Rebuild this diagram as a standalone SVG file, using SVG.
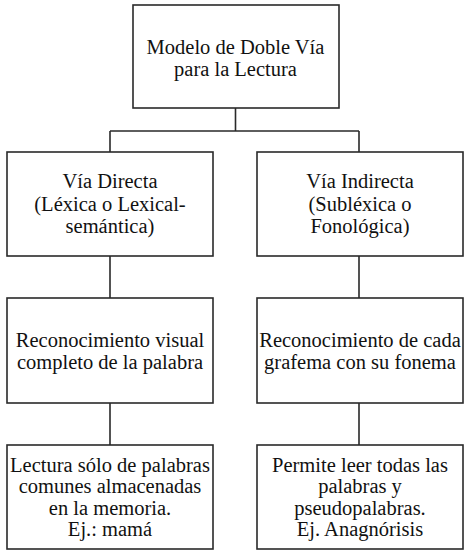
<svg xmlns="http://www.w3.org/2000/svg" width="474" height="560" viewBox="0 0 474 560">
<style>
.box{fill:#fff;stroke:#2a2a2a;stroke-width:1.6}
.ln{fill:none;stroke:#2a2a2a;stroke-width:1.6}
text{font-family:"Liberation Serif","Times New Roman",serif;font-size:20.5px;fill:#111;text-anchor:middle}
</style>
<rect width="474" height="560" fill="#fff"/>
<g id="connectors">
<path class="ln" d="M235.5 108V131M110 131H359M110 131V152M359 131V152M110 256V298M359 256V298M110 403V445M359 403V445"/>
</g>
<g id="top">
<rect class="box" x="133" y="5" width="206" height="103"/>
<text x="235.5" y="54">Modelo de Doble Vía</text>
<text x="235.5" y="76">para la Lectura</text>
</g>
<g id="directa">
<rect class="box" x="7" y="152" width="206" height="104"/>
<text x="110" y="188">Vía Directa</text>
<text x="110" y="211">(Léxica o Lexical-</text>
<text x="110" y="233">semántica)</text>
</g>
<g id="indirecta">
<rect class="box" x="257" y="152" width="206" height="104"/>
<text x="360" y="188">Vía Indirecta</text>
<text x="360" y="211">(Subléxica o</text>
<text x="360" y="233">Fonológica)</text>
</g>
<g id="rec-visual">
<rect class="box" x="7" y="298" width="206" height="105"/>
<text x="110" y="347">Reconocimiento visual</text>
<text x="110" y="368.5">completo de la palabra</text>
</g>
<g id="rec-grafema">
<rect class="box" x="257" y="298" width="206" height="105"/>
<text x="360" y="347">Reconocimiento de cada</text>
<text x="360" y="368.5">grafema con su fonema</text>
</g>
<g id="lectura">
<rect class="box" x="7" y="445" width="206" height="104"/>
<text x="110" y="471.5">Lectura sólo de palabras</text>
<text x="110" y="493">comunes almacenadas</text>
<text x="110" y="514.5">en la memoria.</text>
<text x="110" y="536">Ej.: mamá</text>
</g>
<g id="permite">
<rect class="box" x="257" y="445" width="206" height="104"/>
<text x="360" y="471.5">Permite leer todas las</text>
<text x="360" y="493">palabras y</text>
<text x="360" y="514.5">pseudopalabras.</text>
<text x="360" y="536">Ej. Anagnórisis</text>
</g>
</svg>
